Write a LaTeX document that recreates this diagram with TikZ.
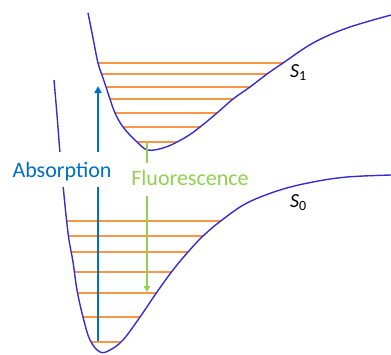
\documentclass[tikz,border=0pt]{standalone}
\usepackage{fontspec}
\setmainfont{Carlito}
\usetikzlibrary{arrows.meta}
\definecolor{curveblue}{RGB}{55,45,205}
\definecolor{levelorange}{RGB}{247,150,70}
\definecolor{absblue}{RGB}{0,112,192}
\definecolor{fluogreen}{RGB}{146,208,80}
\tikzset{
  pes/.style={draw=curveblue, line width=1.4pt, line join=round},
  level/.style={draw=levelorange, line width=1.5pt},
  absarrow/.style={draw=absblue, line width=2.6pt},
  fluoarrow/.style={draw=fluogreen, line width=2.4pt},
  biglabel/.style={font=\fontsize{22}{26}\selectfont, fill=white, inner sep=0pt, anchor=base},
  statelabel/.style={font=\fontsize{20}{24}\selectfont, inner sep=0pt, anchor=base west},
}
\begin{document}
\begin{tikzpicture}[x=1pt,y=-1pt]
\useasboundingbox (0,0) rectangle (391,354);
% vibrational levels of S1
\begin{scope}
\clip plot[smooth,tension=0.6] coordinates {(88,13) (93,38) (98,63) (103,78) (106,87) (110,99) (115,113) (123,127) (136,141) (148,150) (166,147) (186,137) (200,127) (217,113) (233,99) (250,87) (267,74) (283,63) (313,43) (347,28) (391,15)} -- (391,0) -- (88,0) -- cycle;
\foreach \yy in {63,74,87,99,113,127,142} \draw[level] (0,\yy) -- (391,\yy);
\end{scope}
% vibrational levels of S0
\begin{scope}
\clip plot[smooth,tension=0.6] coordinates {(54,80) (57,115) (60,153) (63,185) (66,215) (69,240) (73,262) (77,290) (83,317) (90,340) (100,352) (110,350) (123,340) (140,317) (157,292) (173,270) (188,252) (203,236) (222,220) (247,203) (280,190) (313,182) (347,177) (391,175)} -- (391,0) -- (54,0) -- cycle;
\foreach \yy in {221,236,252,272,293,317,342} \draw[level] (0,\yy) -- (391,\yy);
\end{scope}
% potential energy curves
\draw[pes] plot[smooth,tension=0.6] coordinates {(88,13) (93,38) (98,63) (103,78) (106,87) (110,99) (115,113) (123,127) (136,141) (148,150) (166,147) (186,137) (200,127) (217,113) (233,99) (250,87) (267,74) (283,63) (313,43) (347,28) (391,15)};
\draw[pes] plot[smooth,tension=0.6] coordinates {(54,80) (57,115) (60,153) (63,185) (66,215) (69,240) (73,262) (77,290) (83,317) (90,340) (100,352) (110,350) (123,340) (140,317) (157,292) (173,270) (188,252) (203,236) (222,220) (247,203) (280,190) (313,182) (347,177) (391,175)};
% labels
\node[biglabel, text=absblue, text height=25pt, text depth=10pt] (abs) at (62,177) {Absorption};
\node[biglabel, text=fluogreen, text height=22pt, text depth=11pt] (fluo) at (190,185) {Fluorescence};
\node[statelabel] (s1) at (290,77) {\textit{S}\textsubscript{1}};
\node[statelabel] (s0) at (290,207) {\textit{S}\textsubscript{0}};
% transitions
\coordinate (abot) at (98,341);
\coordinate (atop) at (98,86);
\coordinate (ftop) at (147,142);
\coordinate (fbot) at (147,292);
\draw[absarrow] (abot) -- (abot |- abs.south);
\draw[absarrow, -{Triangle[length=7pt,width=7pt]}] (atop |- abs.north) -- (atop);
\draw[fluoarrow] (ftop) -- (ftop |- fluo.north);
\draw[fluoarrow, -{Triangle[length=6pt,width=6.5pt]}] (fbot |- fluo.south) -- (fbot);
\end{tikzpicture}
\end{document}
